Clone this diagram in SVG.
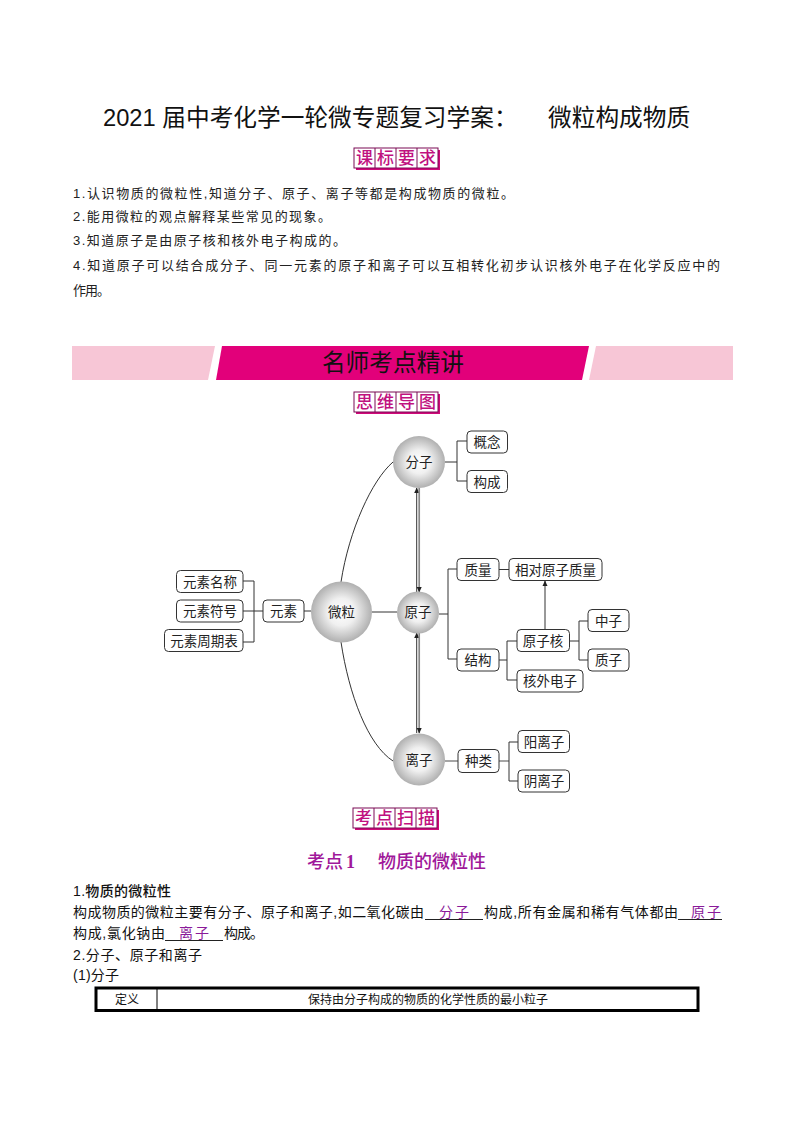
<svg xmlns="http://www.w3.org/2000/svg" width="794" height="1123" viewBox="0 0 794 1123">
<style>
text{font-family:"Liberation Sans","Noto Sans CJK SC",sans-serif;fill:#111}
.title{font-size:23.7px}
.body{font-size:13px;fill:#222}
.para{font-size:14px}
.nt{font-size:13.5px;text-anchor:middle;fill:#222}
.ct{font-size:13.5px;text-anchor:middle;fill:#222}
.st{font-size:17px;font-weight:500;text-anchor:middle;fill:#c0117f}
.ans{font-size:14px;fill:#8a1a9a}
.n{fill:#fff;stroke:#333;stroke-width:1}
.l{fill:none;stroke:#333;stroke-width:1}
.g{fill:none;stroke:#888;stroke-width:1.7}
.sb{fill:#fff;stroke:#7a0a55;stroke-width:1}
.ss{fill:#d0097a}
.u{stroke:#222;stroke-width:1}
</style>
<defs>
<radialGradient id="ball" cx="50%" cy="50%" r="50%"><stop offset="0" stop-color="#fff"/><stop offset=".45" stop-color="#f0f0f0"/><stop offset="1" stop-color="#b0b0b0"/></radialGradient>
<marker id="ah" markerWidth="6" markerHeight="6" refX="5" refY="3" orient="auto" markerUnits="userSpaceOnUse"><path d="M0,0.5L5.5,3L0,5.5z" fill="#222"/></marker>
</defs>
<rect width="794" height="1123" fill="#fff"/>
<text class="title" y="126"><tspan x="103">2021 届中考化学一轮微专题复习学案：</tspan><tspan x="548">微粒构成物质</tspan></text>

<g id="stamp-kebiao"><rect class="ss" x="356" y="150" width="84" height="20"/><rect class="sb" x="354" y="148" width="84" height="20"/><path class="sb" d="M375,148V168M396,148V168M417,148V168"/><text class="st" y="164"><tspan x="364.500">课</tspan><tspan x="385.500">标</tspan><tspan x="406.500">要</tspan><tspan x="427.500">求</tspan></text></g>

<text class="body" x="73" y="198" textLength="441">1.认识物质的微粒性,知道分子、原子、离子等都是构成物质的微粒。</text>
<text class="body" x="73" y="221" textLength="258">2.能用微粒的观点解释某些常见的现象。</text>
<text class="body" x="73" y="245" textLength="273">3.知道原子是由原子核和核外电子构成的。</text>
<text class="body" x="73" y="270" textLength="647">4.知道原子可以结合成分子、同一元素的原子和离子可以互相转化初步认识核外电子在化学反应中的</text>
<text class="body" x="73" y="295" textLength="37">作用。</text>

<g id="banner"><polygon points="72,346 215,346 208,380 72,380" fill="#f7c6d6"/><polygon points="222,346 589,346 582,380 216,380" fill="#e2007a"/><polygon points="596,346 733,346 733,380 589,380" fill="#f7c6d6"/><text x="393" y="371" font-size="23.700" text-anchor="middle">名师考点精讲</text></g>

<g id="stamp-siwei"><rect class="ss" x="356" y="394" width="84" height="20"/><rect class="sb" x="354" y="392" width="84" height="20"/><path class="sb" d="M375,392V412M396,392V412M417,392V412"/><text class="st" y="408"><tspan x="364.500">思</tspan><tspan x="385.500">维</tspan><tspan x="406.500">导</tspan><tspan x="427.500">图</tspan></text></g>

<g id="connectors">
<path class="l" d="M341,582C349,530 372,480 393,462"/>
<path class="l" d="M341,642C349,695 368,745 393,761"/>
<path class="l" d="M445,462H457M467,441H457V481H467"/>
<path class="l" d="M439,614H448M457,569H448V659H457"/>
<path class="l" d="M499,569.500H509"/>
<path class="l" d="M545,629V581" marker-end="url(#ah)"/>
<path class="l" d="M499,660H507M517,641H507V680H517"/>
<path class="l" d="M569,641H579M588,621H579V660H588"/>
<path class="l" d="M243,581H254V642H243M243,611H263"/>
<path class="l" d="M304,611H311M372,612H397"/>
<path class="g" d="M445,761H458M499,761H509"/>
<path class="l" d="M518,742H509V781H518"/>
<path class="l" d="M416.700,592V488" marker-end="url(#ah)"/>
<path class="g" d="M419.200,488V592" marker-end="url(#ah)"/>
<path class="l" d="M416.700,733V633" marker-end="url(#ah)"/>
<path class="g" d="M419.200,633V733" marker-end="url(#ah)"/>
</g>

<g id="n-fenzi"><circle cx="419" cy="462" r="26" fill="url(#ball)"/><text class="ct" x="419" y="466.500">分子</text></g>
<g id="n-weili"><circle cx="341.500" cy="612" r="30.500" fill="url(#ball)"/><text class="ct" x="341.500" y="616.500">微粒</text></g>
<g id="n-yuanzi"><circle cx="418" cy="612.500" r="21" fill="url(#ball)"/><text class="ct" x="418" y="617">原子</text></g>
<g id="n-lizi"><circle cx="419" cy="759.500" r="26" fill="url(#ball)"/><text class="ct" x="419" y="764.500">离子</text></g>

<g id="n-gainian"><rect class="n" x="467" y="431" width="40.500" height="22" rx="4"/><text class="nt" x="487" y="447">概念</text></g>
<g id="n-goucheng"><rect class="n" x="467" y="470.500" width="40.500" height="22" rx="4"/><text class="nt" x="487" y="486.500">构成</text></g>
<g id="n-yuansumingcheng"><rect class="n" x="176.500" y="570.500" width="66.500" height="22" rx="4"/><text class="nt" x="210" y="586.500">元素名称</text></g>
<g id="n-yuansufuhao"><rect class="n" x="176.500" y="600" width="66.500" height="22" rx="4"/><text class="nt" x="210" y="616">元素符号</text></g>
<g id="n-zhouqibiao"><rect class="n" x="164.500" y="629.500" width="78.500" height="22" rx="4"/><text class="nt" x="204" y="645.500">元素周期表</text></g>
<g id="n-yuansu"><rect class="n" x="263" y="600" width="41" height="22" rx="4"/><text class="nt" x="283.500" y="616">元素</text></g>
<g id="n-zhiliang"><rect class="n" x="457" y="558.500" width="42" height="22" rx="4"/><text class="nt" x="478" y="574.500">质量</text></g>
<g id="n-xiangdui"><rect class="n" x="509" y="558.500" width="93" height="22" rx="4"/><text class="nt" x="555.500" y="574.500">相对原子质量</text></g>
<g id="n-jiegou"><rect class="n" x="457" y="649" width="42" height="22" rx="4"/><text class="nt" x="478" y="665">结构</text></g>
<g id="n-yuanzihe"><rect class="n" x="517" y="629.500" width="52.500" height="22" rx="4"/><text class="nt" x="543" y="645.500">原子核</text></g>
<g id="n-zhongzi"><rect class="n" x="588" y="609.500" width="41" height="22" rx="4"/><text class="nt" x="608.500" y="625.500">中子</text></g>
<g id="n-zhizi"><rect class="n" x="588" y="649" width="41" height="22" rx="4"/><text class="nt" x="608.500" y="665">质子</text></g>
<g id="n-hewai"><rect class="n" x="517" y="670" width="66" height="22" rx="4"/><text class="nt" x="550" y="686">核外电子</text></g>
<g id="n-zhonglei"><rect class="n" x="458" y="749.500" width="41" height="23" rx="4"/><text class="nt" x="478.500" y="766">种类</text></g>
<g id="n-yang"><rect class="n" x="518" y="730.500" width="51.500" height="22" rx="4"/><text class="nt" x="544" y="746.500">阳离子</text></g>
<g id="n-yin"><rect class="n" x="518" y="770" width="51.500" height="22" rx="4"/><text class="nt" x="544" y="786">阴离子</text></g>

<g id="stamp-kaodian"><rect class="ss" x="355" y="810" width="84" height="20"/><rect class="sb" x="353" y="808" width="84" height="20"/><path class="sb" d="M374,808V828M395,808V828M416,808V828"/><text class="st" y="824"><tspan x="363.500">考</tspan><tspan x="384.500">点</tspan><tspan x="405.500">扫</tspan><tspan x="426.500">描</tspan></text></g>

<text x="307" y="868" font-size="18" font-weight="500" style="fill:#a0189a"><tspan>考点</tspan><tspan x="346" font-family="Liberation Serif" font-weight="700">1</tspan><tspan x="378">物质的微粒性</tspan></text>

<text class="para" x="73" y="896" font-size="13.500" font-weight="500" textLength="98">1.物质的微粒性</text>
<text class="para" x="73" y="917" textLength="351">构成物质的微粒主要有分子、原子和离子,如二氧化碳由</text>
<line class="u" x1="425" y1="919.500" x2="483" y2="919.500"/><text class="ans" x="439" y="917" textLength="30">分子</text>
<text class="para" x="484" y="917" textLength="194">构成,所有金属和稀有气体都由</text>
<line class="u" x1="678" y1="919.500" x2="722" y2="919.500"/><text class="ans" x="691" y="917" textLength="30">原子</text>
<text class="para" x="73" y="938" textLength="92">构成,氯化钠由</text>
<line class="u" x1="165" y1="940.500" x2="223" y2="940.500"/><text class="ans" x="179" y="938" textLength="30">离子</text>
<text class="para" x="224" y="938" textLength="40">构成。</text>
<text class="para" x="73" y="960" textLength="129">2.分子、原子和离子</text>
<text class="para" x="73" y="980" textLength="46">(1)分子</text>

<g id="table"><rect x="96" y="988" width="602" height="22.500" fill="#fff" stroke="#000" stroke-width="3"/><line x1="157" y1="988" x2="157" y2="1011" stroke="#000" stroke-width="1"/><text x="127" y="1004" font-size="12" text-anchor="middle">定义</text><text x="428" y="1004" font-size="12" text-anchor="middle">保持由分子构成的物质的化学性质的最小粒子</text></g>
</svg>
